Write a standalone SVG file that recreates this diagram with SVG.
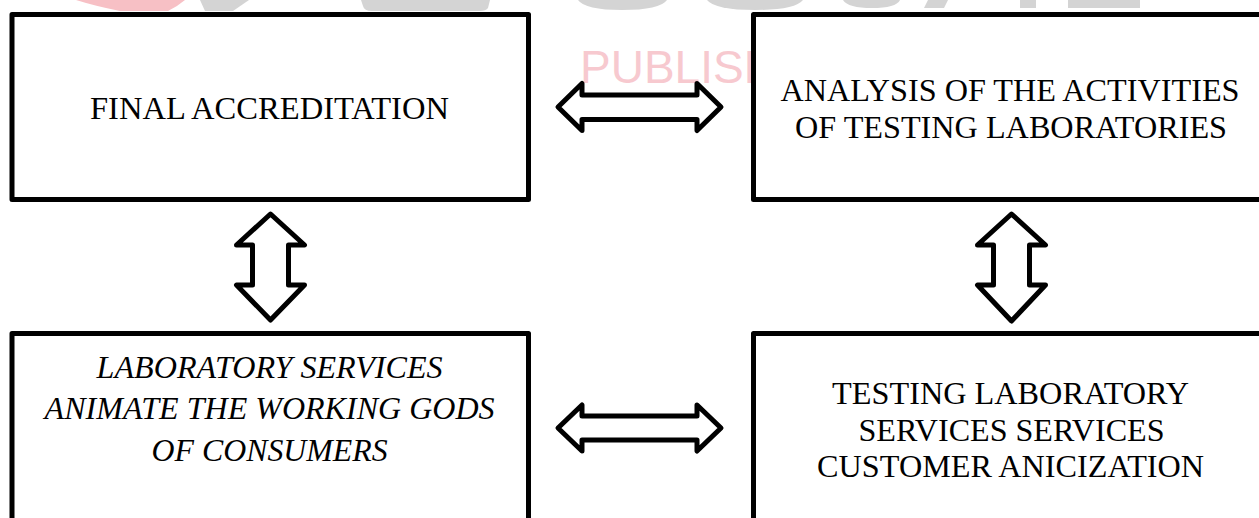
<svg xmlns="http://www.w3.org/2000/svg" width="1259" height="518" viewBox="0 0 1259 518">
<style>
.box{fill:#fff;stroke:#000;stroke-width:5;stroke-linejoin:round}
.arr{fill:#fff;stroke:#000;stroke-width:5;stroke-linejoin:round}
.t{font-family:"Liberation Serif","Times New Roman",serif;font-size:32px;fill:#000;text-anchor:middle}
.i{font-style:italic}
.wm{fill:#d4d4d4}
</style>
<rect width="1259" height="518" fill="#fff"/>
<g id="watermark">
<path d="M76,0 L185,0 Q178,6 168,11 L120,11 Q95,6 76,0 Z" fill="#f7c0c5"/>
<path class="wm" d="M200,0 L249,0 L233,11 L205,11 Z"/>
<path class="wm" d="M361,0 L490,0 L488,8 Q486,11 480,11 L372,11 Q364,11 363,6 Z"/>
<path class="wm" d="M578,0 L667,0 Q660,10 622,10 Q585,10 578,0 Z"/>
<path class="wm" d="M707,0 L803,0 Q795,10 755,10 Q715,10 707,0 Z"/>
<path class="wm" d="M843,0 L900,0 Q896,8 872,8 Q848,8 843,0 Z"/>
<path class="wm" d="M928,0 L948,0 L944,8 L924,8 Z"/>
<path class="wm" d="M1020,0 L1036,0 L1036,8 L1020,8 Z"/>
<path class="wm" d="M1068,0 L1140,0 L1140,8 L1068,8 Z"/>
<text x="580" y="83" font-family="'Liberation Sans',Arial,sans-serif" font-size="46" fill="#f7c9cf">PUBLISH</text>
</g>
<g id="connectors">
<path class="arr" d="M558,107 L582,83.5 L582,95 L697,95 L697,83.5 L721,107 L697,130.5 L697,119.5 L582,119.5 L582,130.5 Z"/>
<path class="arr" d="M558,428 L582,405 L582,416 L697,416 L697,405 L721,428 L697,451 L697,440 L582,440 L582,451 Z"/>
<path class="arr" d="M270.5,214 L304.5,245 L288.5,245 L288.5,285 L304.5,285 L270.5,320 L236.5,285 L252.5,285 L252.5,245 L236.5,245 Z"/>
<path class="arr" d="M1011.5,214 L1045.5,245 L1029.5,245 L1029.5,285 L1045.5,285 L1011.5,321 L977.5,285 L993.5,285 L993.5,245 L977.5,245 Z"/>
</g>
<g id="node-final">
<rect class="box" x="12" y="14.5" width="516.5" height="185"/>
<text class="t" x="269.5" y="119" textLength="359" lengthAdjust="spacingAndGlyphs">FINAL ACCREDITATION</text>
</g>
<g id="node-analysis">
<rect class="box" x="753.5" y="14.5" width="520" height="185"/>
<text class="t" x="1010" y="101" textLength="459" lengthAdjust="spacingAndGlyphs">ANALYSIS OF THE ACTIVITIES</text>
<text class="t" x="1011" y="138" textLength="432" lengthAdjust="spacingAndGlyphs">OF TESTING LABORATORIES</text>
</g>
<g id="node-laboratory">
<rect class="box" x="12" y="333.5" width="516.5" height="200"/>
<text class="t i" x="269.6" y="378" textLength="346" lengthAdjust="spacingAndGlyphs">LABORATORY SERVICES</text>
<text class="t i" x="269.6" y="419" textLength="450" lengthAdjust="spacingAndGlyphs">ANIMATE THE WORKING GODS</text>
<text class="t i" x="269.6" y="461" textLength="236" lengthAdjust="spacingAndGlyphs">OF CONSUMERS</text>
</g>
<g id="node-testing">
<rect class="box" x="753.5" y="333.5" width="520" height="200"/>
<text class="t" x="1010.6" y="404" textLength="357" lengthAdjust="spacingAndGlyphs">TESTING LABORATORY</text>
<text class="t" x="1011.5" y="441" textLength="306" lengthAdjust="spacingAndGlyphs">SERVICES SERVICES</text>
<text class="t" x="1010.6" y="477" textLength="387" lengthAdjust="spacingAndGlyphs">CUSTOMER ANICIZATION</text>
</g>
</svg>
